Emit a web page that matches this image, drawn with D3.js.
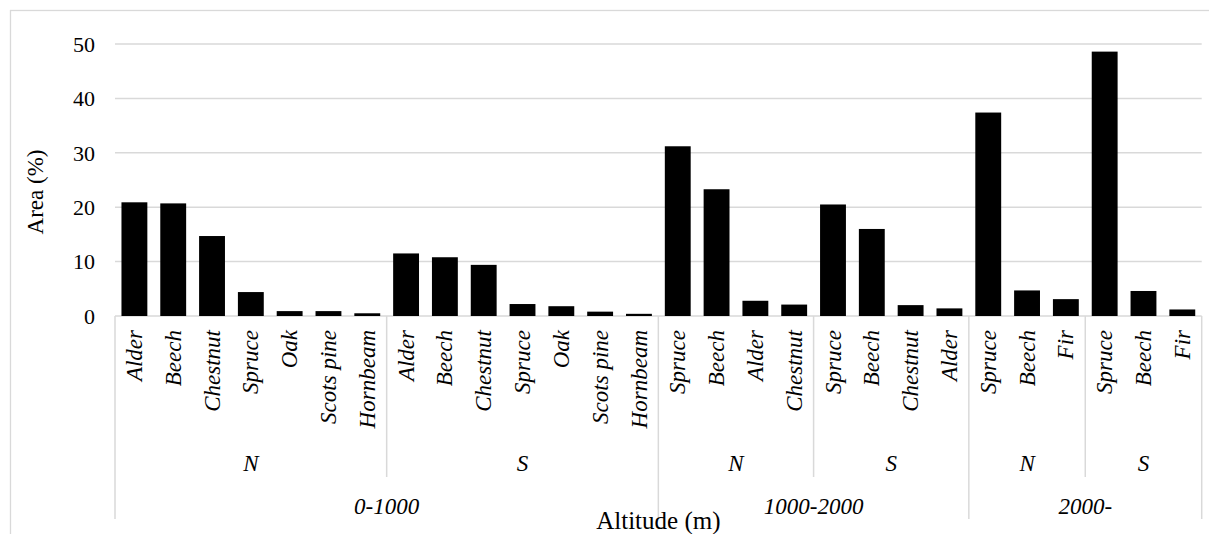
<!DOCTYPE html>
<html>
<head>
<meta charset="utf-8">
<script src="https://cdn.jsdelivr.net/npm/d3@7"></script>
</head>
<body style="margin:0">
<div id="chart"></div>
<script>
// groups along the x axis: altitude band + aspect
var groupAltitude = ["0-1000", "0-1000", "1000-2000", "1000-2000", "2000-", "2000-"];
var groupAspect = ["N", "S", "N", "S", "N", "S"];
var groupSpecies = [
    ["Alder", "Beech", "Chestnut", "Spruce", "Oak", "Scots pine", "Hornbeam"],
    ["Alder", "Beech", "Chestnut", "Spruce", "Oak", "Scots pine", "Hornbeam"],
    ["Spruce", "Beech", "Alder", "Chestnut"],
    ["Spruce", "Beech", "Chestnut", "Alder"],
    ["Spruce", "Beech", "Fir"],
    ["Spruce", "Beech", "Fir"]
];
var groupArea = [
    [20.9, 20.7, 14.7, 4.4, 0.9, 0.9, 0.5],
    [11.5, 10.8, 9.4, 2.2, 1.8, 0.8, 0.4],
    [31.2, 23.3, 2.8, 2.1],
    [20.5, 16.0, 2.0, 1.4],
    [37.4, 4.7, 3.1],
    [48.6, 4.6, 1.2]
];
var yTicks = [0, 10, 20, 30, 40, 50];

var W = 1209, H = 534;
var plotLeft = 115, plotRight = 1201.7, plotTop = 44, plotBottom = 316;
var grid = "#d9d9d9";
var fontName = "'Liberation Serif'";

// flatten into one row per bar
var rows = [];
groupSpecies.forEach(function(list, g) {
    list.forEach(function(s, i) {
        rows.push({ key: g + "-" + i, species: s, value: groupArea[g][i], group: g });
    });
});

var svg = d3.select("#chart").append("svg")
    .attr("width", W)
    .attr("height", H);

// text helper: family first, then size
function label(sel, size, italic) {
    return sel.style("font-family", fontName)
        .style("font-style", italic ? "italic" : "normal")
        .style("font-size", size + "px");
}

// chart border
svg.append("rect")
    .attr("x", 10.5).attr("y", 10.5)
    .attr("width", 1220).attr("height", 560)
    .attr("fill", "none").attr("stroke", grid).attr("stroke-width", 1.3);

var x = d3.scaleBand()
    .domain(rows.map(function(d) { return d.key; }))
    .range([plotLeft, plotRight])
    .paddingInner(1 / 3)
    .paddingOuter(1 / 6);

var y = d3.scaleLinear().domain([0, 50]).range([plotBottom, plotTop]);

// gridlines
svg.append("g")
    .selectAll("line")
    .data(yTicks)
    .enter()
    .append("line")
    .attr("x1", plotLeft).attr("x2", plotRight)
    .attr("y1", function(d) { return y(d); })
    .attr("y2", function(d) { return y(d); })
    .attr("stroke", grid).attr("stroke-width", 1.5);

// y tick labels
label(svg.append("g")
    .selectAll("text")
    .data(yTicks)
    .enter()
    .append("text"), 22, false)
    .attr("x", 95)
    .attr("y", function(d) { return y(d); })
    .attr("dy", "0.35em")
    .attr("text-anchor", "end")
    .text(function(d) { return d; });

// bars
svg.append("g")
    .selectAll("rect")
    .data(rows)
    .enter()
    .append("rect")
    .attr("x", function(d) { return x(d.key); })
    .attr("width", x.bandwidth())
    .attr("y", function(d) { return y(d.value); })
    .attr("height", function(d) { return y(0) - y(d.value); })
    .attr("fill", "#000");

// species labels, rotated
label(svg.append("g")
    .selectAll("text")
    .data(rows)
    .enter()
    .append("text"), 23, true)
    .attr("transform", function(d) {
        return "translate(" + (x(d.key) + x.bandwidth() / 2) + ",330) rotate(-90)";
    })
    .attr("dy", "0.33em")
    .attr("text-anchor", "end")
    .text(function(d) { return d.species; });

// group extents in pixels
var step = x.step();
var groups = [];
var start = 0;
groupSpecies.forEach(function(list, g) {
    groups.push({ g: g, x0: plotLeft + start * step, x1: plotLeft + (start + list.length) * step });
    start += list.length;
});

// aspect separators (short) and altitude separators (long)
var seps = [];
groups.forEach(function(d, i) {
    var newAlt = i == 0 || groupAltitude[i] != groupAltitude[i - 1];
    seps.push({ x: d.x0, long: newAlt });
});
seps.push({ x: plotRight, long: true });

svg.append("g")
    .selectAll("line")
    .data(seps)
    .enter()
    .append("line")
    .attr("x1", function(d) { return d.x; })
    .attr("x2", function(d) { return d.x; })
    .attr("y1", plotBottom)
    .attr("y2", function(d) { return d.long ? 519 : 477; })
    .attr("stroke", grid).attr("stroke-width", 1.5);

// aspect labels
label(svg.append("g")
    .selectAll("text")
    .data(groups)
    .enter()
    .append("text"), 23, true)
    .attr("x", function(d) { return (d.x0 + d.x1) / 2; })
    .attr("y", 463)
    .attr("dy", "0.35em")
    .attr("text-anchor", "middle")
    .text(function(d) { return groupAspect[d.g]; });

// altitude labels
var altNames = Array.from(new Set(groupAltitude));
var altSpans = altNames.map(function(a) {
    var gs = groups.filter(function(d) { return groupAltitude[d.g] == a; });
    return { name: a, x0: gs[0].x0, x1: gs[gs.length - 1].x1 };
});
label(svg.append("g")
    .selectAll("text")
    .data(altSpans)
    .enter()
    .append("text"), 23, true)
    .attr("x", function(d) { return (d.x0 + d.x1) / 2; })
    .attr("y", 506)
    .attr("dy", "0.35em")
    .attr("text-anchor", "middle")
    .text(function(d) { return d.name; });

// axis titles
label(svg.append("text"), 25, false)
    .attr("x", (plotLeft + plotRight) / 2)
    .attr("y", 529)
    .attr("text-anchor", "middle")
    .text("Altitude (m)");

label(svg.append("text"), 23, false)
    .attr("transform", "translate(35,192) rotate(-90)")
    .attr("dy", "0.35em")
    .attr("text-anchor", "middle")
    .text("Area (%)");
</script>
</body>
</html>
